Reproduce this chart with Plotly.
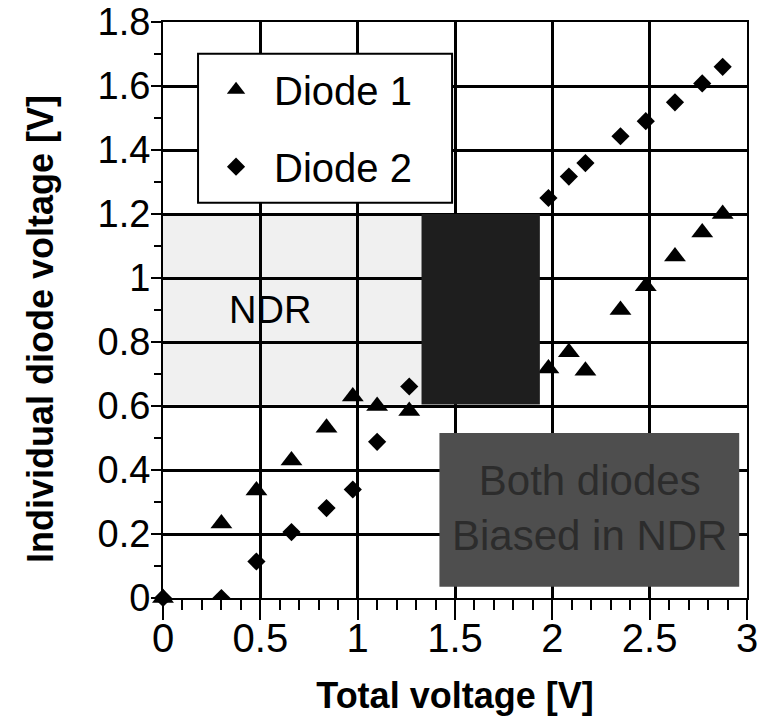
import plotly.graph_objects as go

# Total voltage [V] and individual diode voltages [V]
total_v = [0.0, 0.30, 0.48, 0.66, 0.84, 0.975, 1.10, 1.265, 1.46, 1.57, 1.67, 1.76, 1.855,
           1.98, 2.085, 2.17, 2.35, 2.48, 2.63, 2.77, 2.875]
diode1_v = [0.0, 0.233, 0.336, 0.43, 0.532, 0.63, 0.60, 0.584, 0.66, 0.70, 0.80, 0.98, 1.03,
            0.717, 0.768, 0.71, 0.90, 0.974, 1.067, 1.142, 1.20]
diode2_v = [0.0, 0.0, 0.114, 0.206, 0.281, 0.339, 0.488, 0.661, 0.80, 0.86, 0.87, 0.80, 1.12,
            1.25, 1.317, 1.359, 1.443, 1.49, 1.549, 1.608, 1.66]

series_names = ["Diode 1", "Diode 2"]
x_ticks = [0, 0.5, 1, 1.5, 2, 2.5, 3]
x_tick_text = ["0", "0.5", "1", "1.5", "2", "2.5", "3"]
y_ticks = [0, 0.2, 0.4, 0.6, 0.8, 1.0, 1.2, 1.4, 1.6, 1.8]
y_tick_text = ["0", "0.2", "0.4", "0.6", "0.8", "1", "1.2", "1.4", "1.6", "1.8"]

# shaded regions (data coords)
ndr_region = dict(x0=0.0, x1=1.33, y0=0.605, y1=1.2)
dark_region = dict(x0=1.328, x1=1.936, y0=0.605, y1=1.2)
both_region = dict(x0=1.42, x1=2.96, y0=0.035, y1=0.516)
# legend frame (paper coords)
legend_box = dict(x0=0.060, x1=0.495, y0=0.686, y1=0.945)

FONT = "Liberation Sans, Arial, Helvetica, sans-serif"

mk1 = dict(symbol="triangle-up", size=19, color="black")
mk2 = dict(symbol="diamond", size=14, color="black")

fig = go.Figure()
# main points (clipped so the shaded overlay can hide them)
fig.add_trace(go.Scatter(x=total_v[1:], y=diode1_v[1:], mode="markers", name=series_names[0],
                         legendgroup="d1", marker=mk1, cliponaxis=True))
fig.add_trace(go.Scatter(x=total_v[1:], y=diode2_v[1:], mode="markers", name=series_names[1],
                         legendgroup="d2", marker=mk2, cliponaxis=True))
# origin points drawn unclipped on the axes corner
fig.add_trace(go.Scatter(x=total_v[:1], y=diode1_v[:1], mode="markers", name=series_names[0],
                         legendgroup="d1", showlegend=False, marker=mk1, cliponaxis=False))
fig.add_trace(go.Scatter(x=total_v[:1], y=diode2_v[:1], mode="markers", name=series_names[1],
                         legendgroup="d2", showlegend=False, marker=mk2, cliponaxis=False))

fig.add_shape(type="rect", xref="x", yref="y", layer="below", line_width=0,
              fillcolor="#f0f0f0", **ndr_region)
fig.add_shape(type="rect", xref="x", yref="y", layer="above", line_width=0,
              fillcolor="#1e1e1e", opacity=1.0, **dark_region)
fig.add_shape(type="rect", xref="x", yref="y", layer="above", line_width=0,
              fillcolor="#4e4e4e", **both_region)
fig.add_shape(type="rect", xref="paper", yref="paper", layer="above",
              line=dict(color="black", width=2), fillcolor="white", **legend_box)

fig.add_annotation(x=0.55, y=0.90, xref="x", yref="y", text="NDR", showarrow=False,
                   font=dict(family=FONT, size=38, color="black"))
fig.add_annotation(x=2.19, y=0.28, xref="x", yref="y", text="Both diodes<br>Biased in NDR",
                   showarrow=False, font=dict(family=FONT, size=42, color="#2c2c2c"))
fig.add_annotation(x=-0.2106, y=0.467, xref="paper", yref="paper",
                   text="Individual diode voltage [V]", textangle=-90, showarrow=False,
                   xanchor="center", yanchor="middle",
                   font=dict(family=FONT, size=36, color="black", weight="bold"))

axis_common = dict(showline=True, linecolor="black", linewidth=2, mirror=True,
                   showgrid=True, gridcolor="black", gridwidth=2.5,
                   ticks="outside", tickcolor="black", tickwidth=2,
                   ticklabeloverflow="allow", zeroline=False)

fig.update_xaxes(range=[0, 3], tickmode="array", tickvals=x_ticks, ticktext=x_tick_text,
                 ticklen=20, ticklabelstandoff=-16,
                 tickfont=dict(family=FONT, size=40, color="black"),
                 minor=dict(dtick=0.1, ticks="outside", ticklen=10, tickwidth=2,
                            tickcolor="black", showgrid=False),
                 title=dict(text="Total voltage [V]", standoff=24,
                            font=dict(family=FONT, size=36, color="black", weight="bold")),
                 **axis_common)
fig.update_yaxes(range=[0, 1.8], tickmode="array", tickvals=y_ticks, ticktext=y_tick_text,
                 ticklen=10, ticklabelstandoff=-7,
                 tickfont=dict(family=FONT, size=38, color="black"),
                 minor=dict(dtick=0.1, ticks="outside", ticklen=7, tickwidth=2,
                            tickcolor="black", showgrid=False),
                 **axis_common)

fig.update_layout(
    width=762, height=725,
    margin=dict(l=163, r=15, t=22, b=127, autoexpand=False),
    paper_bgcolor="white", plot_bgcolor="white",
    showlegend=True,
    legend=dict(x=0.06, y=0.939, xanchor="left", yanchor="top",
                bgcolor="rgba(0,0,0,0)", borderwidth=0,
                font=dict(family=FONT, size=40, color="black"),
                itemwidth=66, tracegroupgap=22, traceorder="grouped"),
    font=dict(family=FONT),
)

fig.write_html("out.html", config={"displayModeBar": False},
               post_script="document.body.style.margin='0';")
